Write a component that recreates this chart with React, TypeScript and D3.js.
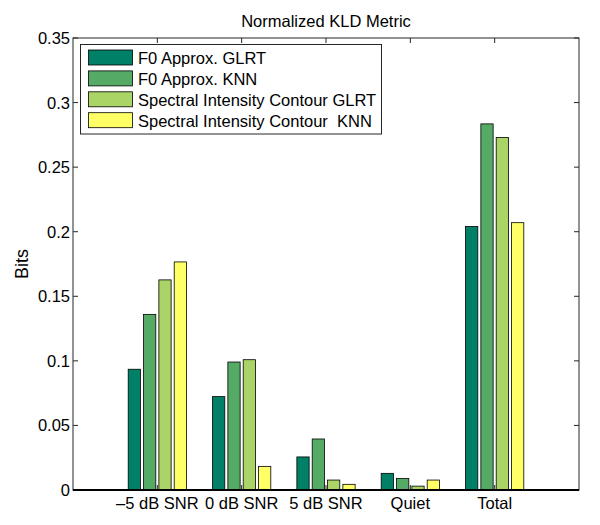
import React from "react";
import * as d3 from "d3";

const categories = ["–5 dB SNR", "0 dB SNR", "5 dB SNR", "Quiet", "Total"];
const seriesNames = [
  "F0 Approx. GLRT",
  "F0 Approx. KNN",
  "Spectral Intensity Contour GLRT",
  "Spectral Intensity Contour  KNN",
];
const f0Glrt = [0.0935, 0.0723, 0.0256, 0.0129, 0.204];
const f0Knn = [0.136, 0.0991, 0.0395, 0.009, 0.2835];
const sicGlrt = [0.1627, 0.1009, 0.0077, 0.003, 0.273];
const sicKnn = [0.1766, 0.0183, 0.0044, 0.0077, 0.207];
const seriesColors = ["#008066", "#55AA66", "#AAD466", "#FFFF66"];
const yTicks = [0, 0.05, 0.1, 0.15, 0.2, 0.25, 0.3, 0.35];
const yTickLabels = ["0", "0.05", "0.1", "0.15", "0.2", "0.25", "0.3", "0.35"];
const title = "Normalized KLD Metric";
const yLabel = "Bits";

const W = 600;
const H = 525;
const left = 73;
const right = 579;
const top = 38;
const bottom = 490;
const FONT = "'Liberation Sans', Arial, Helvetica, sans-serif";
const FS = 16.5;

export default function App() {
  const series = [f0Glrt, f0Knn, sicGlrt, sicKnn];
  const x = d3.scaleLinear().domain([0, categories.length + 1]).range([left, right]);
  const y = d3.scaleLinear().domain([0, 0.35]).range([bottom, top]);
  const nb = series.length;
  const groupWidth = Math.min(0.8, nb / (nb + 1.5));
  const slot = groupWidth / nb;
  const barW = slot * 0.8;
  const axisColor = "#262626";

  return (
    <svg width={W} height={H} style={{ position: "absolute", left: 0, top: 0, background: "#fff" }}>
      <rect x={0} y={0} width={W} height={H} fill="#fff" />
      {/* bars */}
      {series.map((vals, si) =>
        vals.map((v, ci) => {
          const cx = ci + 1 - groupWidth / 2 + (si + 0.5) * slot;
          const x0 = x(cx - barW / 2);
          const x1 = x(cx + barW / 2);
          return (
            <rect
              key={`${si}-${ci}`}
              x={x0}
              y={y(v)}
              width={x1 - x0}
              height={y(0) - y(v)}
              fill={seriesColors[si]}
              stroke="#000"
              strokeWidth={0.8}
            />
          );
        })
      )}
      {/* axes box */}
      <rect x={left} y={top} width={right - left} height={bottom - top} fill="none" stroke={axisColor} strokeWidth={1} />
      {/* y ticks */}
      {yTicks.map((t, i) => (
        <g key={`yt${i}`}>
          <line x1={left} x2={left + 5} y1={y(t)} y2={y(t)} stroke={axisColor} />
          <line x1={right} x2={right - 5} y1={y(t)} y2={y(t)} stroke={axisColor} />
          <text x={left - 3} y={y(t) + 6} textAnchor="end" fontFamily={FONT} fontSize={FS} fill="#000">
            {yTickLabels[i]}
          </text>
        </g>
      ))}
      {/* x ticks */}
      {categories.map((c, i) => (
        <g key={`xt${i}`}>
          <line x1={x(i + 1)} x2={x(i + 1)} y1={top} y2={top + 5} stroke={axisColor} />
          <line x1={x(i + 1)} x2={x(i + 1)} y1={bottom} y2={bottom - 5} stroke={axisColor} />
          <text x={x(i + 1)} y={509} textAnchor="middle" fontFamily={FONT} fontSize={FS} fill="#000">
            {c}
          </text>
        </g>
      ))}
      {/* baseline */}
      <line x1={left} x2={right} y1={y(0)} y2={y(0)} stroke="#000" strokeWidth={2} />
      {/* title */}
      <text x={(left + right) / 2} y={27} textAnchor="middle" fontFamily={FONT} fontSize={FS} fill="#000">
        {title}
      </text>
      {/* y label */}
      <text
        transform={`translate(28, ${(top + bottom) / 2}) rotate(-90)`}
        textAnchor="middle"
        fontFamily={FONT}
        fontSize={18}
        fill="#000"
      >
        {yLabel}
      </text>
      {/* legend */}
      <g>
        <rect x={80.5} y={44.5} width={301} height={89.5} fill="#fff" stroke={axisColor} strokeWidth={1} />
        {seriesNames.map((n, i) => (
          <g key={`lg${i}`}>
            <rect x={88.5} y={50 + i * 20.9} width={44} height={15} fill={seriesColors[i]} stroke="#000" strokeWidth={0.8} />
            <text x={138} y={64 + i * 20.9} fontFamily={FONT} fontSize={FS} fill="#000" style={{ whiteSpace: "pre" }}>
              {n}
            </text>
          </g>
        ))}
      </g>
    </svg>
  );
}
